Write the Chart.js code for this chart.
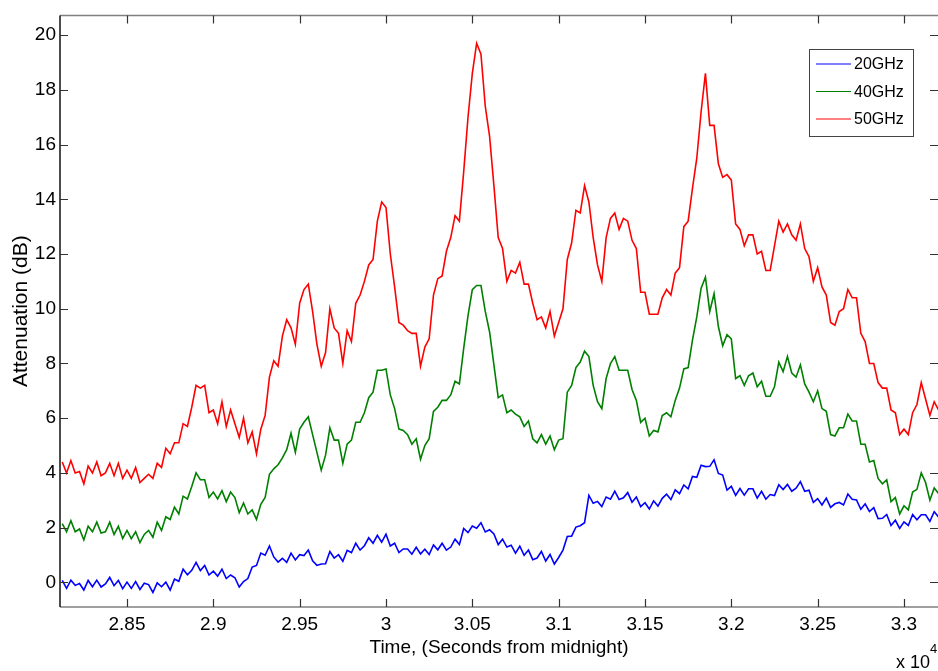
<!DOCTYPE html>
<html>
<head>
<meta charset="utf-8">
<script src="https://cdn.jsdelivr.net/npm/chart.js@4/dist/chart.umd.min.js"></script>
<style>
  body { margin: 0; background: #fff; }
  #wrap { width: 938px; height: 671px; }
</style>
</head>
<body>
<div id="wrap"><canvas id="attChart" width="938" height="671"></canvas></div>
<script>
// DATA, sampled every 25 s from 28125 to 33200
const tStart = 28125;
const tStep = 25;
const seriesNames = ['20GHz', '40GHz', '50GHz'];
const seriesColors = ['#0000ff', '#008000', '#ff0000'];
const xTicks = [28500, 29000, 29500, 30000, 30500, 31000, 31500, 32000, 32500, 33000];
const yTicks = [0, 2, 4, 6, 8, 10, 12, 14, 16, 18, 20];

const att20 = [
  0.07,-0.22,0.08,-0.11,-0.04,-0.28,0.07,-0.16,0.08,-0.17,
  -0.06,0.18,-0.12,0.07,-0.23,0.01,-0.22,0.03,-0.26,-0.03,
  -0.08,-0.37,-0.02,-0.16,0.01,-0.28,0.12,0.04,0.48,0.28,
  0.44,0.73,0.43,0.62,0.27,0.41,0.23,0.48,0.14,0.27,
  0.17,-0.17,0.03,0.14,0.56,0.62,1.07,0.99,1.33,0.93,
  0.74,0.88,0.73,1.07,0.82,1.01,0.98,1.18,0.79,0.62,
  0.67,0.68,1.13,0.89,1.01,0.77,1.17,1.09,1.43,1.18,
  1.34,1.63,1.43,1.72,1.47,1.76,1.33,1.43,1.09,1.22,
  1.22,1.03,1.28,1.04,1.21,1.02,1.37,1.19,1.43,1.18,
  1.29,1.58,1.38,1.97,1.82,2.06,1.98,2.18,1.84,1.92,
  1.77,1.38,1.58,1.29,1.36,1.07,1.32,0.99,1.18,0.83,
  0.89,1.13,0.78,1.02,0.67,0.91,1.18,1.68,1.69,2.02,
  2.07,2.18,3.18,2.89,2.96,2.77,3.12,3.04,3.33,3.03,
  3.09,3.28,2.93,3.12,2.77,2.91,2.68,2.98,2.79,3.07,
  3.22,3.03,3.38,3.24,3.56,3.42,3.87,3.84,4.28,4.23,
  4.24,4.48,3.98,3.92,3.37,3.51,3.18,3.43,3.19,3.42,
  3.42,3.08,3.33,3.04,3.21,3.17,3.57,3.39,3.58,3.33,
  3.44,3.68,3.33,3.37,2.92,3.06,2.83,3.08,2.74,2.87,
  2.92,2.83,3.23,3.04,3.01,2.67,2.87,2.59,2.73,2.33,
  2.34,2.48,2.08,2.27,1.97,2.21,2.08,2.48,2.29,2.47,
  2.47,2.23,2.58,2.39
];

const att40 = [
  2.15,1.85,2.25,1.85,1.95,1.55,2.05,1.85,2.2,1.8,
  1.85,2.2,1.75,2.05,1.6,1.9,1.6,1.85,1.45,1.75,
  1.9,1.65,2.2,1.9,2.4,2.3,2.75,2.5,3.15,3.05,
  3.5,4.0,3.75,3.75,3.1,3.3,3.05,3.35,2.95,3.3,
  3.1,2.55,2.9,2.5,2.65,2.3,2.85,3.1,3.95,4.15,
  4.3,4.55,4.85,5.45,4.75,5.6,5.85,6.05,5.4,4.75,
  4.1,4.65,5.65,5.2,5.2,4.35,5.05,5.2,5.85,5.85,
  6.2,6.75,6.95,7.75,7.75,7.8,6.85,6.35,5.6,5.55,
  5.4,5.05,5.25,4.5,5.0,5.25,6.25,6.4,6.65,6.65,
  6.85,7.35,7.25,8.55,9.75,10.7,10.85,10.85,9.9,9.15,
  7.95,6.75,6.85,6.2,6.3,6.15,6.05,5.7,5.9,5.25,
  5.1,5.4,5.05,5.35,4.85,5.2,5.25,6.95,7.2,7.85,
  8.05,8.45,8.25,7.2,6.6,6.35,7.45,8.0,8.25,7.75,
  7.75,7.75,7.05,6.65,5.85,6.0,5.35,5.55,5.5,6.1,
  6.2,6.05,6.65,7.1,7.8,7.85,8.85,9.7,10.75,11.15,
  9.9,10.55,9.35,8.65,9.05,8.9,7.45,7.55,7.2,7.55,
  7.65,7.15,7.35,6.8,6.8,7.15,8.05,7.7,8.25,7.65,
  7.5,7.95,7.25,6.95,6.6,7.0,6.35,6.25,5.4,5.35,
  5.65,5.65,6.15,5.9,5.9,5.05,5.05,4.4,4.45,3.8,
  3.6,3.75,2.95,3.1,2.5,2.8,2.65,3.3,3.4,4.0,
  3.65,3.0,3.45,3.25
];

const att50 = [
  4.4,4.0,4.45,4.0,4.05,3.6,4.25,4.0,4.4,3.9,
  4.0,4.35,3.9,4.35,3.8,4.1,3.8,4.2,3.65,3.8,
  3.95,3.8,4.35,4.2,4.9,4.7,5.1,5.1,5.8,5.7,
  6.4,7.2,7.1,7.2,6.2,6.3,5.8,6.6,5.7,6.3,
  5.8,5.3,6.0,5.1,5.5,4.7,5.6,6.1,7.5,8.1,
  7.9,9.0,9.6,9.3,8.7,10.2,10.7,10.9,9.9,8.7,
  7.9,8.4,10.0,9.3,9.1,8.0,9.2,8.8,10.2,10.5,
  11.0,11.6,11.8,13.2,13.9,13.7,12.0,10.8,9.5,9.4,
  9.2,9.1,9.1,7.9,8.6,8.9,10.5,11.1,11.2,12.1,
  12.6,13.4,13.2,15.0,17.0,18.6,19.7,19.3,17.4,16.3,
  14.5,12.6,12.2,11.0,11.4,11.3,11.7,10.9,10.9,10.2,
  9.6,9.7,9.3,9.9,9.0,9.5,10.0,11.8,12.4,13.6,
  13.5,14.5,13.9,12.6,11.6,11.0,12.6,13.3,13.5,12.9,
  13.3,13.2,12.5,12.2,10.6,10.6,9.8,9.8,9.8,10.4,
  10.7,10.5,11.3,11.5,13.0,13.2,14.4,15.5,17.2,18.6,
  16.7,16.7,15.3,14.8,14.9,14.7,13.1,12.9,12.3,12.7,
  12.7,12.0,12.1,11.4,11.4,12.3,13.2,12.8,13.1,12.7,
  12.5,13.1,12.2,11.9,11.0,11.5,10.8,10.5,9.5,9.4,
  9.9,10.0,10.7,10.4,10.4,9.1,8.8,8.0,8.0,7.3,
  7.1,7.1,6.3,6.2,5.4,5.6,5.4,6.2,6.5,7.3,
  6.7,6.1,6.6,6.3
];

// sample times for the x axis
const times = att20.map((v, i) => tStart + i * tStep);
const allSeries = [att20, att40, att50];

const FONT = 'Liberation Sans, Arial, sans-serif';

// TICKS, FRAME, LEGEND AND x10^4 NOTE (matlab look)
const matlabFrame = {
  id: 'matlabFrame',
  afterDraw(chart) {
    const ctx = chart.ctx;
    const a = chart.chartArea;
    const xs = chart.scales.x;
    const ys = chart.scales.y;
    ctx.save();

    // frame
    ctx.lineWidth = 1.5;
    ctx.strokeStyle = '#808080';
    ctx.beginPath();
    ctx.moveTo(a.left, a.top); ctx.lineTo(a.right, a.top);
    ctx.moveTo(a.left, a.bottom); ctx.lineTo(a.right, a.bottom);
    ctx.stroke();
    ctx.strokeStyle = '#111';
    ctx.beginPath();
    ctx.moveTo(a.left, a.top); ctx.lineTo(a.left, a.bottom);
    ctx.stroke();

    // inward tick marks
    ctx.lineWidth = 1.2;
    ctx.strokeStyle = '#333';
    ctx.beginPath();
    xTicks.forEach(v => {
      const px = Math.round(xs.getPixelForValue(v)) + 0.5;
      ctx.moveTo(px, a.bottom); ctx.lineTo(px, a.bottom - 8);
      ctx.moveTo(px, a.top); ctx.lineTo(px, a.top + 8);
    });
    yTicks.forEach(v => {
      const py = Math.round(ys.getPixelForValue(v)) + 0.5;
      ctx.moveTo(a.left, py); ctx.lineTo(a.left + 8, py);
      ctx.moveTo(a.right, py); ctx.lineTo(a.right - 8, py);
    });
    ctx.stroke();

    // legend box
    const lx = 809, ly = 49, lw = 104, lh = 87;
    ctx.fillStyle = '#fff';
    ctx.fillRect(lx, ly, lw, lh);
    ctx.lineWidth = 1;
    ctx.strokeStyle = '#444';
    ctx.strokeRect(lx + 0.5, ly + 0.5, lw, lh);
    ctx.font = '16px ' + FONT;
    ctx.textBaseline = 'middle';
    ctx.textAlign = 'left';
    chart.data.datasets.forEach((ds, i) => {
      const rowY = 64 + i * 27.5;
      ctx.strokeStyle = ds.borderColor;
      ctx.lineWidth = 1;
      ctx.beginPath();
      ctx.moveTo(816, rowY); ctx.lineTo(851, rowY);
      ctx.stroke();
      ctx.fillStyle = '#000';
      ctx.fillText(ds.label, 854, rowY + 1);
    });

    // exponent note
    ctx.fillStyle = '#000';
    ctx.textBaseline = 'alphabetic';
    ctx.font = '18px ' + FONT;
    ctx.fillText('x 10', 896, 668);
    ctx.font = '13px ' + FONT;
    ctx.fillText('4', 930, 653);
    ctx.restore();
  }
};

const ctx = document.getElementById('attChart').getContext('2d');
const attChart = new Chart(ctx, {
  type: 'line',
  data: {
    datasets: allSeries.map((vals, i) => ({
      label: seriesNames[i],
      data: vals.map((v, j) => ({ x: times[j], y: v })),
      borderColor: seriesColors[i],
      borderWidth: 1.6,
      pointRadius: 0,
      tension: 0,
      fill: false
    }))
  },
  options: {
    responsive: false,
    animation: false,
    layout: { padding: { top: 7, right: 0, left: 0, bottom: 0 } },
    plugins: {
      legend: { display: false },
      tooltip: { enabled: false }
    },
    scales: {
      x: {
        type: 'linear',
        min: 28112,
        max: 33197,
        grid: { display: false, drawTicks: false },
        border: { display: false },
        afterFit: s => { s.height = 64; },
        afterBuildTicks: s => { s.ticks = xTicks.map(v => ({ value: v })); },
        ticks: {
          autoSkip: false,
          maxRotation: 0,
          padding: 6,
          color: '#000',
          font: { family: FONT, size: 19 },
          callback: v => parseFloat((v / 10000).toFixed(3)).toString()
        },
        title: {
          display: true,
          text: 'Time, (Seconds from midnight)',
          color: '#000',
          font: { family: FONT, size: 19 },
          padding: { top: 0, bottom: 12 }
        }
      },
      y: {
        min: -0.9,
        max: 20.72,
        grid: { display: false, drawTicks: false },
        border: { display: false },
        afterFit: s => { s.width = 60; },
        afterBuildTicks: s => { s.ticks = yTicks.map(v => ({ value: v })); },
        ticks: {
          padding: 4,
          color: '#000',
          font: { family: FONT, size: 19 }
        },
        title: {
          display: true,
          text: 'Attenuation (dB)',
          color: '#000',
          font: { family: FONT, size: 21 },
          padding: { top: 9, bottom: 0 }
        }
      }
    }
  },
  plugins: [matlabFrame]
});
</script>
</body>
</html>
